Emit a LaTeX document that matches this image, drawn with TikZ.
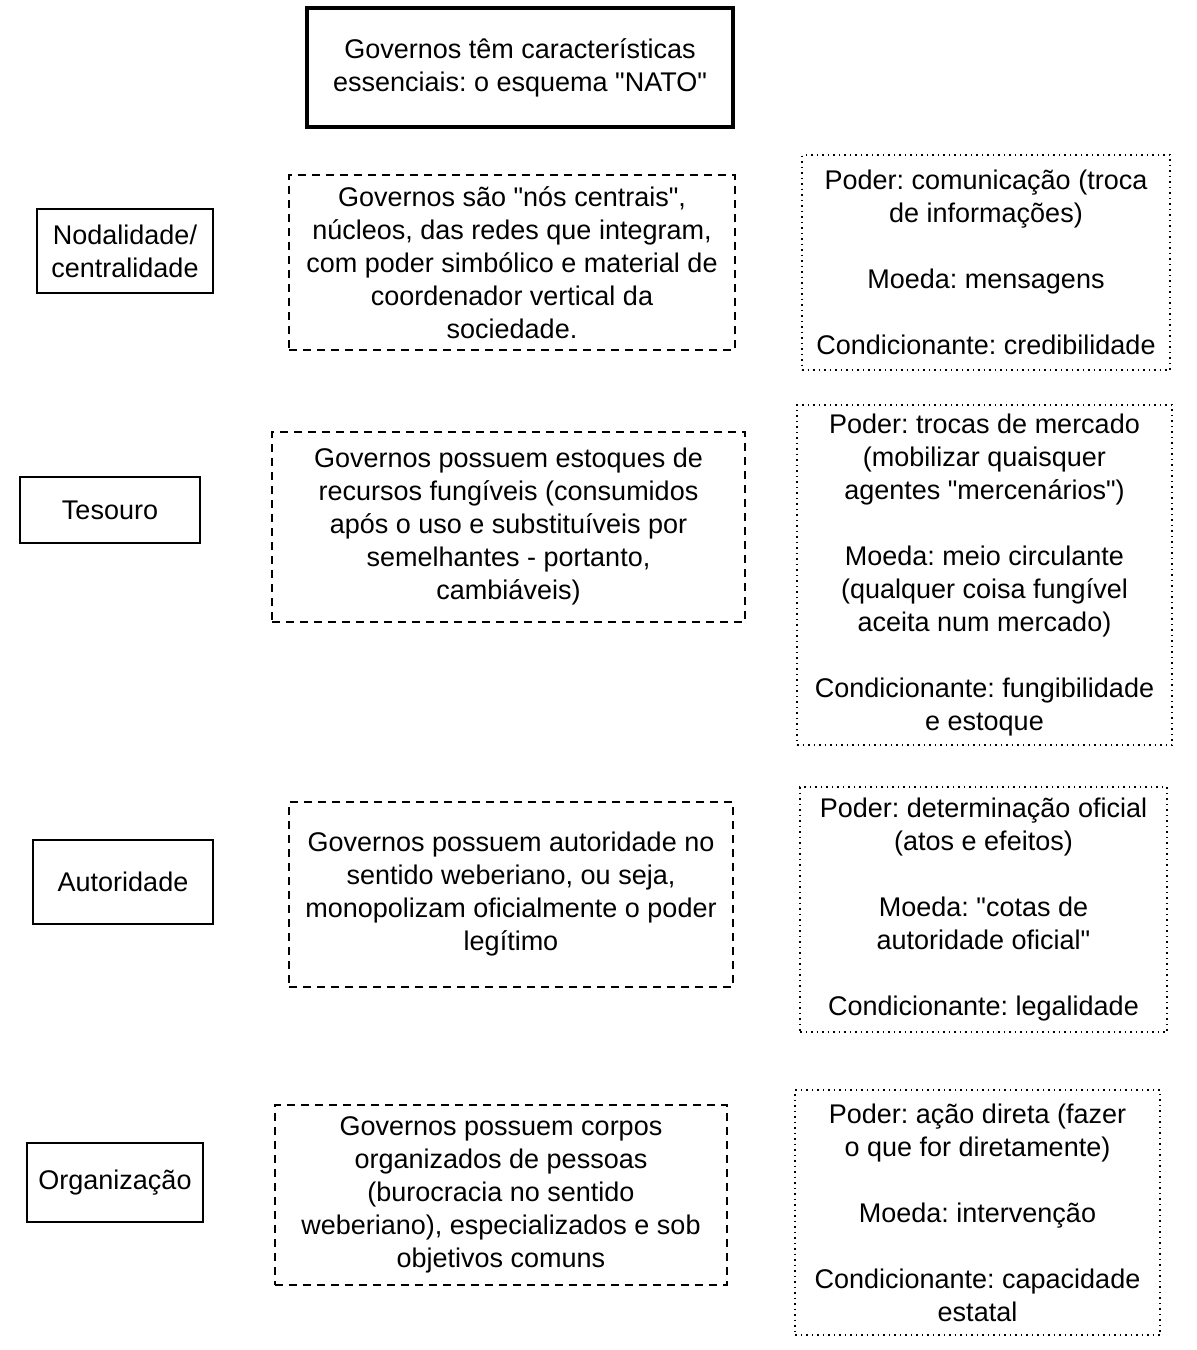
\documentclass[tikz,border=0pt]{standalone}
\usepackage{fontspec}
\setmainfont{Liberation Sans}[Ligatures=TeXOff]
\usetikzlibrary{positioning}

\begin{document}
\frenchspacing
\begin{tikzpicture}[x=1pt,y=-1pt,
    every node/.style={font=\fontsize{27}{33}\selectfont,align=center,inner sep=0pt},
    titlebox/.style={draw,line width=4.5pt,minimum width=426pt,minimum height=119pt},
    pillar/.style={draw,line width=2pt},
    summary/.style={draw,dash pattern=on 8pt off 6pt,line width=1.2pt},
    detail/.style={draw,dash pattern=on 1.5pt off 4pt,line width=1.6pt}
  ]
    \useasboundingbox (0,0) rectangle (1197,1350);
    \node[titlebox] (title) at (520,67.5) {Governos têm características\\essenciais: o esquema "NATO"};

    % nodalidade
    \node[pillar,minimum width=176pt,minimum height=84pt] (nodal) at (125,251) {Nodalidade/\\centralidade};
    \node[summary,minimum width=446pt,minimum height=175pt] (nodaltext) at (512,262.5)
      {Governos são "nós centrais",\\núcleos, das redes que integram,\\com poder simbólico e material de\\coordenador vertical da\\sociedade.};
    \node[detail,minimum width=368pt,minimum height=215pt] (nodalpower) at (986,262.5)
      {Poder: comunicação (troca\\de informações)\\[33pt]Moeda: mensagens\\[33pt]Condicionante: credibilidade};

    % tesouro
    \node[pillar,minimum width=180pt,minimum height=66pt] (treasure) at (110,510) {Tesouro};
    \node[summary,minimum width=473pt,minimum height=190pt] (treasuretext) at (508.5,527)
      {Governos possuem estoques de\\recursos fungíveis (consumidos\\após o uso e substituíveis por\\semelhantes - portanto,\\cambiáveis)};
    \node[detail,minimum width=375pt,minimum height=340pt] (treasurepower) at (984.5,575)
      {Poder: trocas de mercado\\(mobilizar quaisquer\\agentes "mercenários")\\[33pt]Moeda: meio circulante\\(qualquer coisa fungível\\aceita num mercado)\\[33pt]Condicionante: fungibilidade\\e estoque};

    % autoridade
    \node[pillar,minimum width=180pt,minimum height=84pt] (authority) at (123,882) {Autoridade};
    \node[summary,minimum width=444pt,minimum height=185pt] (authoritytext) at (511,894.5)
      {Governos possuem autoridade no\\sentido weberiano, ou seja,\\monopolizam oficialmente o poder\\legítimo};
    \node[detail,minimum width=367pt,minimum height=245pt] (authoritypower) at (983.5,909.5)
      {Poder: determinação oficial\\(atos e efeitos)\\[33pt]Moeda: "cotas de\\autoridade oficial"\\[33pt]Condicionante: legalidade};

    % organizacao
    \node[pillar,minimum width=176pt,minimum height=79pt] (organization) at (115,1182.5) {Organização};
    \node[summary,minimum width=452pt,minimum height=180pt] (organizationtext) at (501,1195)
      {Governos possuem corpos\\organizados de pessoas\\(burocracia no sentido\\weberiano), especializados e sob\\objetivos comuns};
    \node[detail,minimum width=365pt,minimum height=245pt] (organizationpower) at (977.5,1212.5)
      {Poder: ação direta (fazer\\o que for diretamente)\\[33pt]Moeda: intervenção\\[33pt]Condicionante: capacidade\\estatal};
  \end{tikzpicture}
\end{document}
